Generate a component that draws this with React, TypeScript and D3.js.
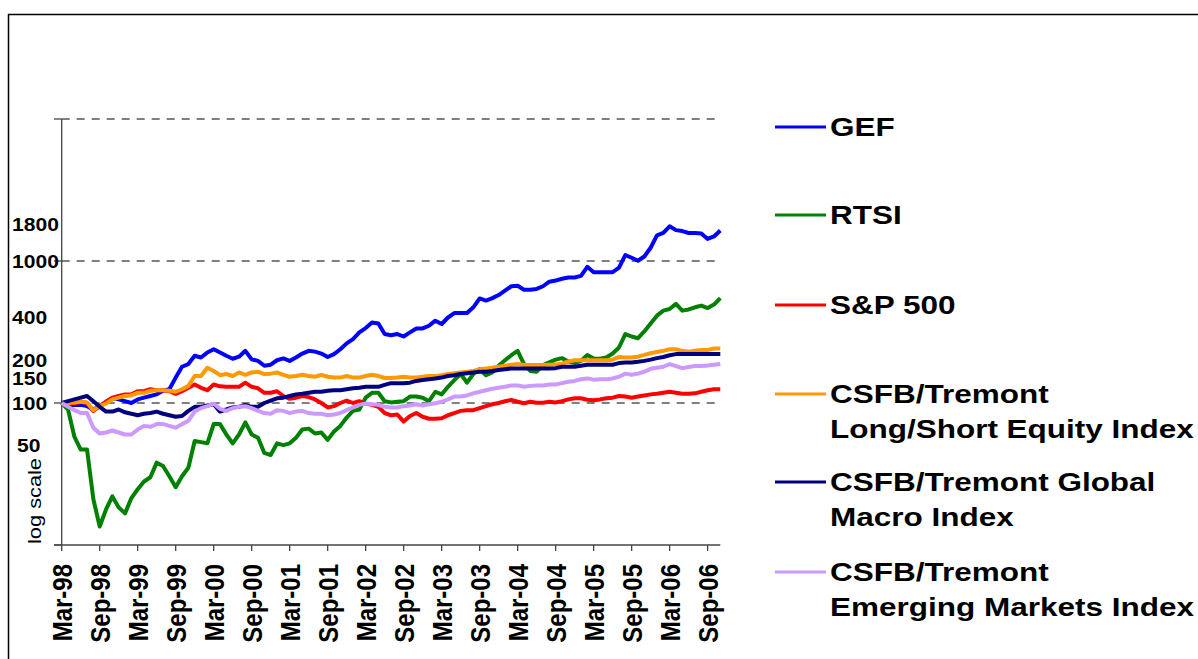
import React from 'react';
import * as d3 from 'd3';

// monthly observations, Mar-98 .. Nov-06 (index 100 = Mar-98)
const months = d3.timeMonth.range(new Date(1998, 2, 1), new Date(2006, 11, 1));

const tickLabels = [
  'Mar-98', 'Sep-98', 'Mar-99', 'Sep-99', 'Mar-00', 'Sep-00', 'Mar-01', 'Sep-01', 'Mar-02',
  'Sep-02', 'Mar-03', 'Sep-03', 'Mar-04', 'Sep-04', 'Mar-05', 'Sep-05', 'Mar-06', 'Sep-06',
];
const yLabels = [1800, 1000, 400, 200, 150, 100, 50];
const gridValues = [100, 1000, 10000];
const axisTicks = [10, 100, 1000, 10000];

const gef = [
  100, 97, 97, 97, 95, 90, 95, 102, 108, 106,
  103, 100, 106, 109, 112, 115, 122, 125, 151, 180, 188, 215,
  209, 227, 239, 227, 215, 205, 212, 233, 203, 198, 183, 186,
  200, 206, 198, 209, 223, 233, 230, 223, 211, 221, 239, 263,
  282, 314, 337, 369, 363, 306, 300, 306, 294, 314, 335, 335,
  350, 380, 360, 400, 430, 430, 430, 472, 545, 526, 548, 576,
  619, 664, 670, 628, 628, 636, 664, 715, 728, 750, 765, 765,
  785, 910, 833, 833, 833, 833, 899, 1100, 1054, 1004, 1075, 1240,
  1515, 1575, 1755, 1650, 1625, 1575, 1575, 1560, 1430, 1488, 1640,
];
const rtsi = [
  100, 90, 58, 47, 47, 21, 13.5, 17.8, 22, 18.4,
  16.7, 21.4, 24.7, 28, 30, 38, 36, 30.5, 25.5, 30.5, 35, 54,
  53, 52, 71, 71, 60, 52, 60, 73, 60, 57, 44.5, 43,
  52, 50.5, 52, 57, 65, 66, 61, 62, 55, 63, 69, 79,
  88, 90, 109, 118, 118, 103, 101, 102, 103, 111, 111, 109,
  103, 120, 115, 130, 145, 160, 139, 160, 173, 157, 164, 183,
  200, 217, 233, 188, 168, 166, 185, 193, 202, 207, 196, 191,
  198, 218, 206, 205, 209, 223, 246, 306, 294, 286, 319, 363,
  412, 447, 459, 499, 447, 456, 472, 485, 466, 493, 548,
];
const sp500 = [
  100, 100, 99, 102, 100, 88, 95, 102, 109, 112,
  115, 115, 121, 121, 125, 123, 123, 121, 116, 121, 128, 135,
  128, 123, 135, 131, 130, 130, 130, 139, 130, 127, 118, 118,
  121, 112, 107, 109, 112, 110, 106, 100, 93, 95, 100, 104,
  100, 103, 99, 97, 94, 85, 82, 83, 74, 81, 85, 80,
  77.5, 77.5, 78, 82, 85, 88, 89, 89, 92, 95, 98, 100,
  103, 105, 102, 99.5, 102, 100.5, 100.5, 102, 101, 103, 106, 108,
  108, 105.5, 104.5, 106, 108, 109, 112, 111, 109, 111, 113, 115,
  116, 118, 120, 118, 116, 116, 117, 120, 123, 125, 125,
];
const longShort = [
  100, 100, 101, 102, 101, 89, 95, 99, 106, 109,
  112, 113, 118, 118, 122, 123, 123, 122, 120, 125, 132, 155,
  155, 177, 168, 157, 160, 155, 164, 158, 164, 166, 160, 161,
  164, 158, 153, 155, 158, 155, 153, 158, 153, 151, 151, 155,
  151, 151, 155, 158, 155, 150, 150, 151, 153, 151, 151, 153,
  155, 155, 157, 160, 162, 164, 166, 168, 173, 175, 177, 180,
  183, 186, 188, 185, 185, 185, 185, 186, 187, 189, 196, 200,
  200, 200, 200, 200, 200, 202, 211, 209, 209, 212, 218, 224,
  229, 233, 239, 239, 233, 230, 233, 236, 236, 242, 242,
];
const globalMacro = [
  100, 103, 106, 109, 112, 103, 94, 87, 87, 90,
  86, 84, 82, 84, 85, 87, 84, 82, 80, 81, 88, 94,
  94, 96, 98, 87, 90, 93, 94, 97, 94, 94, 100, 104,
  108, 109, 112, 115, 116, 118, 120, 120, 122, 123, 123, 125,
  127, 128, 130, 130, 130, 134, 138, 138, 138, 139, 143, 145,
  147, 149, 151, 155, 157, 160, 162, 164, 166, 166, 168, 171,
  173, 175, 175, 175, 175, 175, 175, 175, 176, 180, 180, 180,
  183, 186, 186, 186, 186, 186, 191, 193, 193, 195, 198, 202,
  207, 211, 217, 221, 221, 221, 221, 221, 221, 221, 221,
];
const emergingMarkets = [
  100, 94, 89, 85, 85, 67, 61, 62, 64, 62,
  60, 60, 65, 69, 68, 71, 71, 69, 67, 71, 75, 87,
  92, 95, 99, 91, 88, 92, 94, 95, 92, 88, 85, 84,
  89, 88, 85, 87, 88, 85, 84, 84, 82, 83, 85, 89,
  93, 97, 99, 98, 97, 94, 93, 93, 95, 96, 98, 96,
  98, 99.5, 102, 106, 111, 111, 113, 117, 120, 123, 126, 128,
  130, 133, 133, 130, 132, 133, 133, 135, 135, 138, 141, 143,
  147, 149, 146, 147, 147, 149, 153, 161, 158, 161, 166, 174,
  177, 180, 188, 182, 176, 179, 182, 182, 184, 186, 188,
];

const seriesNames = [
  ['GEF'],
  ['RTSI'],
  ['S&P 500'],
  ['CSFB/Tremont', 'Long/Short Equity Index'],
  ['CSFB/Tremont Global', 'Macro Index'],
  ['CSFB/Tremont', 'Emerging Markets Index'],
];
const seriesValues = [gef, rtsi, sp500, longShort, globalMacro, emergingMarkets];
const seriesColors = ['#0000FF', '#008000', '#FF0000', '#FF9900', '#000080', '#CC99FF'];

const FONT = '"Liberation Sans", Arial, sans-serif';

export default function App() {
  const x = d3.scaleLinear().domain([0, months.length - 1]).range([61.7, 720.3]);
  const y = d3.scaleLog().domain([10, 10000]).range([545, 119]);

  const line = d3
    .line<number>()
    .x((_, i) => x(i))
    .y(d => y(d));

  // legend layout
  const legendLineY = [127, 215, 305, 394, 482, 572];

  return (
    <svg
      width={1198}
      height={659}
      style={{ position: 'absolute', left: 0, top: 0, background: '#fff' }}
      fontFamily={FONT}
    >
      <rect x={0} y={0} width={1198} height={659} fill="#fff" />
      {/* chart frame */}
      <path d="M8.5,700 L8.5,14.5 L1210,14.5" fill="none" stroke="#000" strokeWidth={1.5} />

      {/* gridlines */}
      {gridValues.map(v => (
        <line
          key={v}
          x1={x(0)}
          x2={x(months.length - 1)}
          y1={y(v)}
          y2={y(v)}
          stroke="#555"
          strokeWidth={1.6}
          strokeDasharray="8 7"
        />
      ))}

      {/* y axis */}
      <line x1={61.7} x2={61.7} y1={y(10000)} y2={y(10)} stroke="#444" strokeWidth={1.3} />
      {axisTicks.map(v => (
        <line key={v} x1={54} x2={61.7} y1={y(v)} y2={y(v)} stroke="#444" strokeWidth={1.3} />
      ))}
      {yLabels.map(v => (
        <text
          key={v}
          transform={`translate(${v === 50 ? 17 : 12},${y(v)}) scale(1.14,1)`}
          dy="0.36em"
          fontSize={18.5}
          fontWeight="bold"
          fill="#000"
        >
          {v}
        </text>
      ))}
      <text
        transform="translate(41,544) rotate(-90)"
        fontSize={19}
        textLength={86}
        lengthAdjust="spacingAndGlyphs"
        fill="#000"
      >
        log scale
      </text>

      {/* x axis */}
      <line x1={54} x2={x(months.length - 1)} y1={y(10)} y2={y(10)} stroke="#444" strokeWidth={1.3} />
      {tickLabels.map((t, k) => (
        <g key={t}>
          <line x1={x(k * 6)} x2={x(k * 6)} y1={y(10)} y2={y(10) + 6} stroke="#444" strokeWidth={1.3} />
          <text
            transform={`translate(${x(k * 6)},564) scale(1.16,1) rotate(-90)`}
            dy="0.36em"
            textAnchor="end"
            fontSize={24}
            fontWeight="bold"
            fill="#000"
          >
            {t}
          </text>
        </g>
      ))}

      {/* series */}
      {seriesValues.map((vals, s) => (
        <path
          key={s}
          d={line(vals) || ''}
          fill="none"
          stroke={seriesColors[s]}
          strokeWidth={4}
          strokeLinejoin="round"
        />
      ))}

      {/* legend */}
      {seriesNames.map((names, s) => (
        <g key={s}>
          <line
            x1={775}
            x2={826}
            y1={legendLineY[s]}
            y2={legendLineY[s]}
            stroke={seriesColors[s]}
            strokeWidth={3}
          />
          {names.map((n, j) => (
            <text
              key={j}
              transform={`translate(830,${legendLineY[s] + 9 + j * 35}) scale(1.26,1)`}
              fontSize={25}
              fontWeight="bold"
              fill="#000"
            >
              {n}
            </text>
          ))}
        </g>
      ))}
    </svg>
  );
}
